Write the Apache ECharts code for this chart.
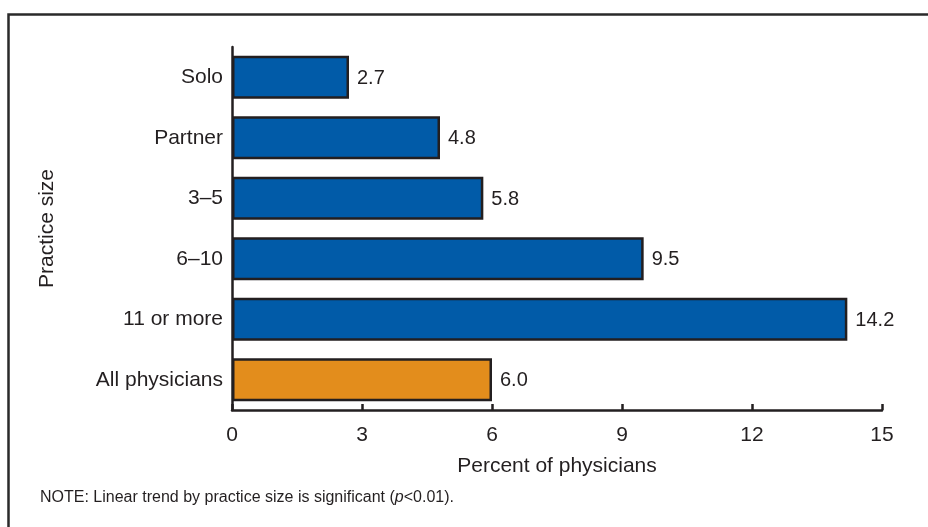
<!DOCTYPE html>
<html>
<head>
<meta charset="utf-8">
<script src="https://cdn.jsdelivr.net/npm/echarts@6/dist/echarts.min.js"></script>
<style>html,body{margin:0;padding:0;background:#fff}#c{width:928px;height:527px}</style>
</head>
<body>
<div id="c"></div>
<script>
var categories = ['Solo', 'Partner', '3\u20135', '6\u201310', '11 or more', 'All physicians'];
var values = [2.7, 4.8, 5.8, 9.5, 14.2, 6.0];
var barColors = ['#015BA8', '#015BA8', '#015BA8', '#015BA8', '#015BA8', '#E38D1C'];
var xTicks = [0, 3, 6, 9, 12, 15];

var FONT = 'Liberation Sans, Arial, Helvetica, sans-serif';
var chart = echarts.init(document.getElementById('c'));
var ink = '#231f20';
chart.setOption({
  animation: false,
  graphic: [
    { type: 'rect', left: 6, top: 12, shape: { width: 960, height: 560 }, style: { fill: 'none', stroke: '#2a2a2a', lineWidth: 2.5 }, z: -1 },
    { type: 'text', left: 40, top: 490, style: { text: '{n|NOTE: Linear trend by practice size is significant (}{i|p}{n|<0.01).}', rich: { n: { fontFamily: FONT, fontSize: 16, fill: ink }, i: { fontFamily: FONT, fontSize: 16, fontStyle: 'italic', fill: ink } } } }
  ],
  grid: { left: 232, top: 47, width: 650, height: 363, containLabel: false },
  xAxis: {
    type: 'value', min: xTicks[0], max: xTicks[xTicks.length - 1], interval: 3,
    axisLine: { show: true, lineStyle: { color: ink, width: 2.5 } },
    axisTick: { show: true, inside: true, length: 6, lineStyle: { color: ink, width: 2.5 } },
    splitLine: { show: false },
    axisLabel: { fontFamily: FONT, fontSize: 21, color: ink, margin: 15 },
    name: 'Percent of physicians', nameLocation: 'middle', nameGap: 46,
    nameTextStyle: { fontFamily: FONT, fontSize: 21, color: ink }
  },
  yAxis: {
    type: 'category', data: categories, inverse: true,
    axisLine: { show: true, lineStyle: { color: ink, width: 2.5 } },
    axisTick: { show: false },
    axisLabel: { fontFamily: FONT, fontSize: 21, color: ink, margin: 9 },
    name: 'Practice size', nameLocation: 'middle', nameGap: 174, nameRotate: 90,
    nameTextStyle: { fontFamily: FONT, fontSize: 21, color: ink }
  },
  series: [{
    type: 'bar',
    data: values.map(function (v, i) { return { value: v, itemStyle: { color: barColors[i] } }; }),
    barWidth: 43,
    itemStyle: { borderColor: ink, borderWidth: 2.5 },
    label: { show: true, position: 'right', distance: 8, formatter: function (p) { return p.value.toFixed(1); }, fontFamily: FONT, fontSize: 20, color: ink, offset: [0, 1] }
  }]
});
</script>
</body>
</html>
